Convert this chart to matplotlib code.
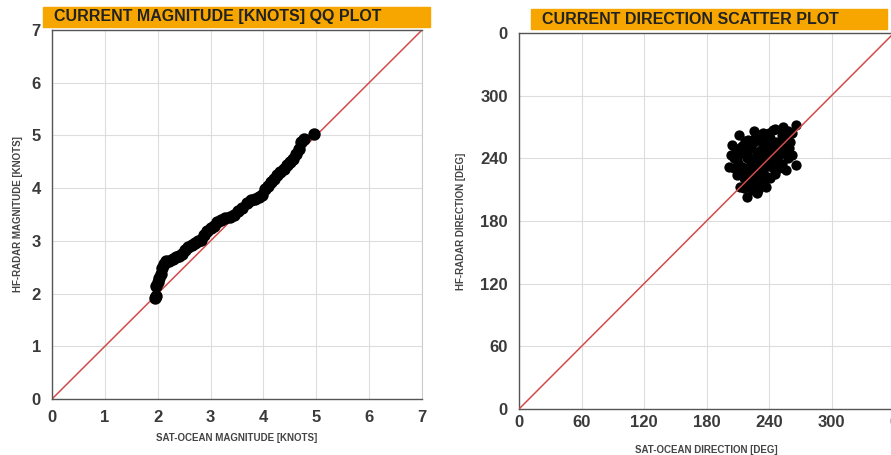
import numpy as np
import matplotlib
matplotlib.use("Agg")
import matplotlib.pyplot as plt
from matplotlib.patches import Rectangle

plt.rcParams['font.family'] = ['Liberation Sans', 'DejaVu Sans']

# QQ plot quantiles (knots)
sat_q = [1.95, 1.96, 1.97, 2.00, 2.03, 2.06, 2.09, 2.12, 2.16, 2.22, 2.28, 2.34, 2.40,
         2.46, 2.52, 2.58, 2.64, 2.70, 2.76, 2.82, 2.88, 2.94, 3.00, 3.06, 3.12, 3.20,
         3.28, 3.36, 3.44, 3.52, 3.60, 3.68, 3.76, 3.84, 3.92, 3.98, 4.03, 4.08, 4.14,
         4.20, 4.26, 4.32, 4.38, 4.44, 4.50, 4.56, 4.62, 4.68, 4.72, 4.76, 4.95]
radar_q = [1.92, 1.96, 2.15, 2.22, 2.30, 2.38, 2.48, 2.56, 2.62, 2.62, 2.66, 2.69, 2.72,
           2.75, 2.82, 2.88, 2.93, 2.96, 2.99, 3.02, 3.12, 3.19, 3.24, 3.29, 3.36, 3.40,
           3.43, 3.46, 3.50, 3.56, 3.63, 3.71, 3.77, 3.80, 3.84, 3.87, 3.98, 4.05, 4.11,
           4.17, 4.24, 4.31, 4.37, 4.44, 4.49, 4.55, 4.64, 4.74, 4.88, 4.93, 5.03]

# direction scatter (deg)
sat_dir = [211.1, 204.9, 217.3, 203.3, 201.8, 206.4, 212.6, 218.9, 228.2, 237.5, 240.6,
           250.0, 256.2, 265.5, 262.4, 259.3, 251.5, 253.1, 265.5, 262.4, 243.7, 234.4,
           226.6, 222.0, 228.2, 234.4, 240.6, 246.8, 231.3, 225.1, 234.4, 222.0, 243.7,
           237.5, 218.9, 215.8, 225.1, 243.7, 250.0, 246.8, 256.2, 209.5, 212.6, 218.9,
           231.3, 237.5, 232.8, 209.5, 215.8, 229.7,
           215, 220, 225, 230, 235, 240, 245, 250, 255, 248, 242, 236, 230, 224, 220,
           214, 210, 206, 212, 218, 224, 232, 238, 246, 252, 258, 236, 228, 222, 232,
           240, 246, 252, 258, 226, 220, 214, 208, 230, 226, 244, 254, 260, 216, 220,
           234, 228]
radar_dir = [262.3, 252.8, 256.6, 243.2, 232.0, 230.4, 212.9, 203.3, 206.5, 212.9, 220.9,
             230.4, 228.8, 233.6, 243.2, 249.6, 254.4, 270.3, 271.9, 263.9, 267.1, 263.9,
             259.1, 249.6, 246.4, 252.8, 259.1, 256.0, 236.8, 230.4, 227.2, 220.9, 240.0,
             240.0, 230.4, 220.9, 214.5, 230.4, 243.2, 246.4, 259.1, 240.0, 249.6, 240.0,
             262.3, 262.3, 217.7, 224.0, 211.3, 209.7,
             245, 250, 255, 258, 257, 252, 250, 248, 245, 238, 235, 232, 226, 224, 228,
             232, 236, 240, 226, 214, 210, 214, 222, 225, 235, 240, 245, 240, 238, 248,
             264, 268, 262, 266, 266, 258, 252, 248, 220, 218, 244, 254, 256, 222, 242,
             238, 232]

mag_ticks = [0, 1, 2, 3, 4, 5, 6, 7]
dir_ticks = [0, 60, 120, 180, 240, 300, 360]
dir_labels = ['0', '60', '120', '180', '240', '300', '0']

W, H = 891, 455
fig = plt.figure(figsize=(W / 100, H / 100), dpi=100)

ax1 = fig.add_axes([52 / W, 1 - 399 / H, 370 / W, 369 / H])
ax2 = fig.add_axes([519 / W, 1 - 409 / H, 375 / W, 376 / H])

red = '#d24b4b'


def style(ax):
    ax.grid(True, color='#dddddd', lw=0.8)
    ax.set_axisbelow(True)
    for s in ['left', 'bottom', 'top']:
        ax.spines[s].set_color('#555555')
        ax.spines[s].set_linewidth(1.0)
    ax.spines['right'].set_color('#cccccc')
    ax.tick_params(length=0, labelsize=12, labelcolor='#3a3a3a', pad=8)
    for lab in ax.get_xticklabels() + ax.get_yticklabels():
        lab.set_fontweight('bold')


ax1.plot([0, 7], [0, 7], color=red, lw=1.1, zorder=2)
ax1.scatter(sat_q, radar_q, s=80, color='black', zorder=3, linewidths=0)
ax1.set_xlim(0, 7)
ax1.set_ylim(0, 7)
ax1.set_xticks(mag_ticks)
ax1.set_yticks(mag_ticks)
style(ax1)
ax1.set_xlabel('SAT-OCEAN MAGNITUDE [KNOTS]', fontsize=7, fontweight='bold',
               color='#444444', labelpad=6)
ax1.set_ylabel('HF-RADAR MAGNITUDE [KNOTS]', fontsize=7, fontweight='bold',
               color='#444444', labelpad=6)

ax2.scatter(sat_dir, radar_dir, s=55, color='black', zorder=2, linewidths=0)
ax2.plot([0, 360], [0, 360], color=red, lw=1.1, zorder=3)
ax2.set_xlim(0, 360)
ax2.set_ylim(0, 360)
ax2.set_xticks(dir_ticks)
ax2.set_xticklabels(dir_labels)
ax2.set_yticks(dir_ticks)
ax2.set_yticklabels(dir_labels)
style(ax2)
ax2.tick_params(axis='x', pad=4)
ax2.set_xlabel('SAT-OCEAN DIRECTION [DEG]', fontsize=7, fontweight='bold',
               color='#444444', labelpad=11)
ax2.set_ylabel('HF-RADAR DIRECTION [DEG]', fontsize=7, fontweight='bold',
               color='#444444', labelpad=10)

# orange title boxes
orange = '#f7a600'
fig.add_artist(Rectangle((43 / W, 1 - 27 / H), 387 / W, 20 / H, color=orange,
                         transform=fig.transFigure, zorder=0))
fig.text(54 / W, 1 - 17 / H, 'CURRENT MAGNITUDE [KNOTS] QQ PLOT', fontsize=11.5,
         fontweight='bold', color='#222222', va='center', ha='left')
fig.add_artist(Rectangle((531 / W, 1 - 29 / H), 356 / W, 20 / H, color=orange,
                         transform=fig.transFigure, zorder=0))
fig.text(542 / W, 1 - 19 / H, 'CURRENT DIRECTION SCATTER PLOT', fontsize=11.5,
         fontweight='bold', color='#222222', va='center', ha='left')

fig.savefig('out.png', dpi=100)
